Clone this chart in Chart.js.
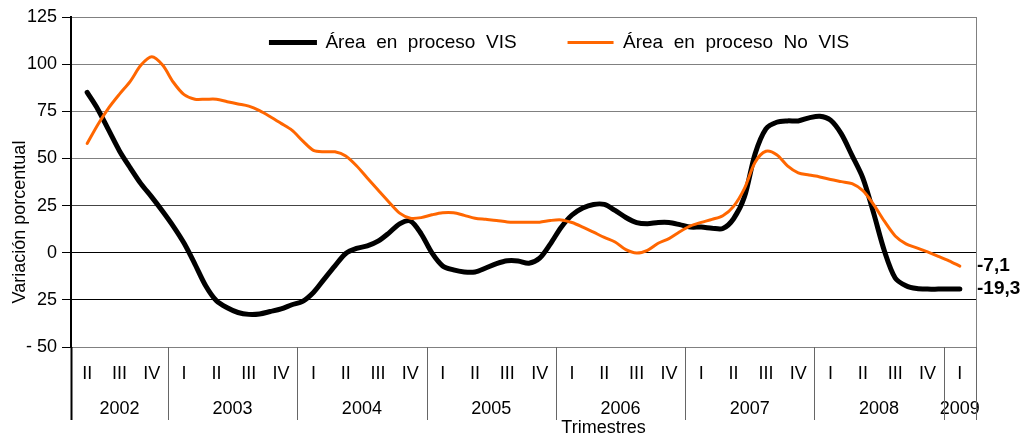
<!DOCTYPE html>
<html>
<head>
<meta charset="utf-8">
<title>Área en proceso VIS / No VIS</title>
<script src="https://cdn.jsdelivr.net/npm/chart.js@4.4.0/dist/chart.umd.min.js"></script>
<style>
  html, body { margin: 0; padding: 0; background: #fff; }
  #wrap { width: 1021px; height: 437px; }
</style>
</head>
<body>
<div id="wrap"><canvas id="chart"></canvas></div>
<script>
// trimestres del eje (empieza en el II de 2002)
const quarterLabels = [
  'II', 'III', 'IV',
  'I', 'II', 'III', 'IV',
  'I', 'II', 'III', 'IV',
  'I', 'II', 'III', 'IV',
  'I', 'II', 'III', 'IV',
  'I', 'II', 'III', 'IV',
  'I', 'II', 'III', 'IV',
  'I'
];
const years = ['2002', '2003', '2004', '2005', '2006', '2007', '2008', '2009'];
const quartersPerYear = [3, 4, 4, 4, 4, 4, 4, 1];

const yTicks = [-50, -25, 0, 25, 50, 75, 100, 125];
const endValues = [-19.3, -7.1];

// variación mensual (may-2002 ... feb-2009)
const areaVIS = [
  85, 76, 65, 54, 45, 36.5, 29.5, 22, 14, 5,
  -6, -17.5, -25.5, -29.2, -31.7, -32.7, -32.5, -31.2, -29.8, -27.6,
  -25.8, -21.1, -14, -7, -0.4, 2.3, 3.6, 6.1, 10.4, 15.3,
  16.8, 10, -0.1, -7, -9.1, -10.2, -10.2, -8.1, -5.8, -4.3,
  -4.4, -5.6, -2.9, 4.7, 13.5, 20, 23.7, 25.6, 25.6, 22.4,
  18.7, 16, 15.4, 16, 16, 14.9, 13.6, 13.6, 13, 12.8,
  18, 29.5, 52.5, 65.7, 69.2, 69.9, 69.9, 71.5, 72.4, 70.3,
  63, 51.5, 39.6, 21, 0.9, -13.4, -17.5, -19, -19.3, -19.3,
  -19.3, -19.3
];
const areaNoVIS = [
  57.9, 68, 76.8, 84.1, 90.9, 99.5, 103.9, 99.5, 90.4, 83.8,
  81.4, 81.4, 81.4, 80.1, 78.9, 77.7, 75.3, 72.1, 68.6, 65,
  59.3, 54.3, 53.5, 53.5, 51.3, 46.1, 39.6, 33.2, 26.9, 21,
  18.3, 18.6, 20.1, 21.2, 21.2, 19.8, 18.3, 17.7, 17.1, 16.3,
  16.2, 16.2, 16.2, 17.1, 17.4, 16, 13.6, 10.9, 8.1, 5.7,
  1.6, -0.2, 1.3, 5, 7.5, 11.1, 14.2, 16.1, 17.7, 19.6,
  24.6, 34, 48, 53.8, 52, 46.1, 42.4, 41.2, 40.2, 38.8,
  37.7, 36.6, 32.9, 25.5, 16.7, 8.9, 4.7, 2.6, 0.4, -1.9,
  -4.3, -7.1
];

// mes i -> posición en trimestres (3 meses por trimestre)
const toPoints = arr => arr.map((v, i) => ({ x: i / 3, y: v }));

// límites y centros de cada año en unidades de trimestre
const yearStarts = [];
let acc = -0.5;
quartersPerYear.forEach(n => { yearStarts.push(acc); acc += n; });
const yearBounds = [...yearStarts, acc];
const yearCenters = yearStarts.map((s, i) => s + quartersPerYear[i] / 2);

Chart.defaults.font.family = "'Liberation Sans', Arial, sans-serif";
Chart.defaults.color = '#000';

// líneas verticales que separan los años bajo el eje
const yearSeparators = {
  id: 'yearSeparators',
  afterDraw(chart) {
    const { ctx, chartArea, scales } = chart;
    const bottom = scales.x2.bottom - 17;
    ctx.save();
    yearBounds.forEach((b, i) => {
      const px = Math.round(scales.x.getPixelForValue(b)) + 0.5;
      ctx.strokeStyle = i === 0 ? '#000' : '#666';
      ctx.lineWidth = i === 0 ? 2 : 1;
      ctx.beginPath();
      ctx.moveTo(px, chartArea.bottom);
      ctx.lineTo(px, bottom);
      ctx.stroke();
    });
    ctx.restore();
  }
};

// la leyenda va dentro del área del gráfico
const legendNudge = {
  id: 'legendNudge',
  afterLayout(chart) {
    const lg = chart.legend;
    const dy = 19 - lg.top;
    lg.top += dy;
    lg.bottom += dy;
    lg.left += 46;
    lg.right += 46;
  }
};

const gridColor = v => (v === 0 || v === -25) ? '#000' : (v === 25 ? '#444' : '#808080');

new Chart(document.getElementById('chart'), {
  type: 'line',
  data: {
    datasets: [
      {
        label: 'Área en proceso VIS',
        data: toPoints(areaVIS),
        borderColor: '#000000',
        backgroundColor: '#000000',
        borderWidth: 5,
        pointRadius: 0,
        tension: 0.3,
        borderCapStyle: 'round',
        borderJoinStyle: 'round',
        order: 1
      },
      {
        label: 'Área en proceso No VIS',
        data: toPoints(areaNoVIS),
        borderColor: '#FF6600',
        backgroundColor: '#FF6600',
        borderWidth: 3,
        pointRadius: 0,
        tension: 0.3,
        borderCapStyle: 'round',
        borderJoinStyle: 'round',
        order: 0
      }
    ]
  },
  options: {
    responsive: true,
    maintainAspectRatio: false,
    animation: false,
    layout: { padding: { top: -26, left: 6, right: 0, bottom: 0 } },
    scales: {
      x: {
        type: 'linear',
        position: 'bottom',
        weight: 0,
        min: -0.5,
        max: 27.5,
        afterBuildTicks: axis => { axis.ticks = quarterLabels.map((_, i) => ({ value: i })); },
        afterFit: axis => { axis.height = 33; },
        grid: { display: false, drawTicks: false },
        border: { display: true, color: '#808080', width: 1 },
        ticks: {
          autoSkip: false,
          maxRotation: 0,
          padding: 16,
          font: { size: 18 },
          callback: (v, i) => quarterLabels[i]
        }
      },
      x2: {
        type: 'linear',
        position: 'bottom',
        weight: 1,
        min: -0.5,
        max: 27.5,
        afterBuildTicks: axis => { axis.ticks = yearCenters.map(v => ({ value: v })); },
        afterFit: axis => { axis.height = 57; },
        grid: { display: false, drawTicks: false },
        border: { display: false },
        ticks: {
          autoSkip: false,
          maxRotation: 0,
          padding: 18,
          font: { size: 18 },
          callback: (v, i) => years[i]
        },
        title: {
          display: true,
          text: '\u00a0'.repeat(32) + 'Trimestres',
          font: { size: 18, lineHeight: 1 },
          padding: { top: 1, bottom: 0 }
        }
      },
      y: {
        type: 'linear',
        position: 'left',
        min: -50,
        max: 125,
        afterBuildTicks: axis => { axis.ticks = yTicks.map(v => ({ value: v })); },
        afterFit: axis => { axis.width = 65; },
        grid: {
          color: c => gridColor(c.tick ? c.tick.value : null),
          lineWidth: 1,
          tickColor: '#000',
          tickLength: 9
        },
        border: { display: true, color: '#000', width: 2 },
        ticks: {
          padding: 5,
          font: { size: 18 },
          callback: v => v === -50 ? '- 50' : String(Math.abs(v))
        },
        title: {
          display: true,
          text: 'Variación porcentual' + '\u00a0'.repeat(16),
          font: { size: 18, lineHeight: 1 },
          padding: { top: 5, bottom: 0 }
        }
      },
      y2: {
        type: 'linear',
        position: 'right',
        min: -50,
        max: 125,
        afterBuildTicks: axis => { axis.ticks = endValues.map(v => ({ value: v })); },
        afterFit: axis => { axis.width = 45; },
        grid: { drawOnChartArea: false, drawTicks: false },
        border: { display: true, color: '#808080', width: 1 },
        ticks: {
          autoSkip: false,
          padding: 1,
          font: { size: 19, weight: 'bold' },
          callback: v => v.toFixed(1).replace('.', ',')
        }
      }
    },
    plugins: {
      legend: {
        position: 'top',
        labels: {
          font: { size: 19 },
          color: '#000',
          boxWidth: 46,
          boxHeight: 3,
          padding: 14,
          generateLabels: chart => chart.data.datasets.map((ds, i) => ({
            text: ds.label.replace(/ /g, '  ') + (i === 0 ? '\u00a0'.repeat(7) : ''),
            fillStyle: ds.borderColor,
            strokeStyle: ds.borderColor,
            lineWidth: i === 0 ? 2 : 0,
            hidden: false,
            datasetIndex: i
          }))
        }
      },
      tooltip: { enabled: false }
    }
  },
  plugins: [legendNudge, yearSeparators]
});
</script>
</body>
</html>
